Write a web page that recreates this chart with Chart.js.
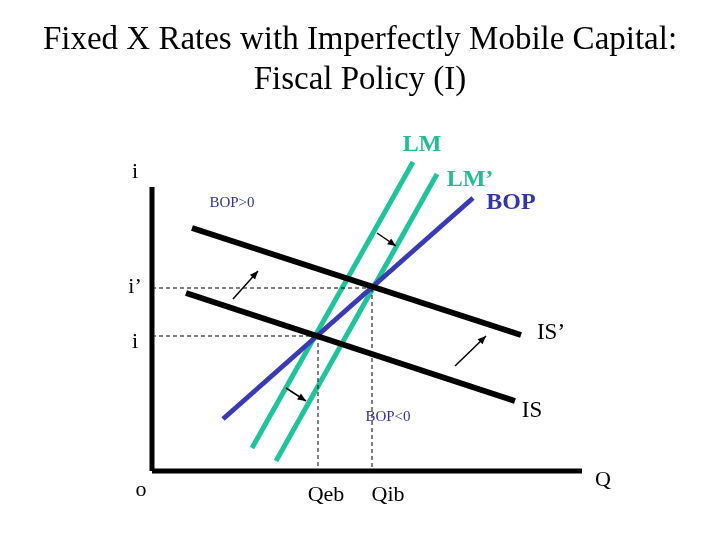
<!DOCTYPE html>
<html><head><meta charset="utf-8">
<script src="https://cdn.jsdelivr.net/npm/chart.js@4"></script>
<style>html,body{margin:0;padding:0;background:#fff}#w{width:720px;height:540px}</style>
</head><body><div id="w"><canvas id="c"></canvas></div>
<script>
const lmLine=[{x:252,y:448},{x:413,y:162}];
const lmPrimeLine=[{x:276,y:461},{x:437,y:174}];
const bopLine=[{x:223,y:419},{x:473,y:198}];
const isPrimeLine=[{x:192,y:228},{x:521,y:335}];
const isLine=[{x:186,y:293},{x:515,y:401}];
const yAxisLine=[{x:152,y:187},{x:152,y:471}];
const xAxisLine=[{x:152,y:471},{x:582,y:471}];
const dashLines=[
 [{x:152,y:288},{x:372,y:288}],[{x:372,y:288},{x:372,y:471}],
 [{x:152,y:336},{x:316,y:336}],[{x:318,y:336},{x:318,y:471}]];
const arrows=[
 [{x:233,y:299},{x:258,y:271}],[{x:455,y:366},{x:486,y:336}],
 [{x:377,y:233},{x:396,y:246}],[{x:286,y:388},{x:306,y:401}]];
const labels=[
 {t:'i',x:135,y:172,s:22,c:'#000',b:false},
 {t:'i’',x:135,y:287,s:22,c:'#000',b:false},
 {t:'i',x:135,y:342,s:22,c:'#000',b:false},
 {t:'o',x:141,y:490,s:22,c:'#000',b:false},
 {t:'Qeb',x:326,y:495,s:22,c:'#000',b:false},
 {t:'Qib',x:388,y:495,s:22,c:'#000',b:false},
 {t:'Q',x:603,y:480,s:22,c:'#000',b:false},
 {t:'LM',x:422,y:145,s:24,c:'#1fbf95',b:true},
 {t:'LM’',x:470,y:180,s:24,c:'#1fbf95',b:true},
 {t:'BOP',x:511,y:203,s:24,c:'#3535a8',b:true},
 {t:'BOP>0',x:232,y:203,s:15,c:'#333399',b:false},
 {t:'BOP<0',x:388,y:417,s:15,c:'#333399',b:false},
 {t:'IS’',x:551,y:333,s:23,c:'#000',b:false},
 {t:'IS',x:532,y:411,s:23,c:'#000',b:false},
 {t:'Fixed X Rates with Imperfectly Mobile Capital:',x:360,y:40,s:33,c:'#000',b:false},
 {t:'Fiscal Policy (I)',x:360,y:80,s:33,c:'#000',b:false}];
const mk=(d,c,w,dash)=>({data:d,showLine:true,borderColor:c,borderWidth:w,pointRadius:0,borderDash:dash||[],borderCapStyle:'butt'});
const ds=[];
dashLines.forEach(d=>ds.push(mk(d,'#000',1,[4,3])));
arrows.forEach(d=>ds.push(mk(d,'#000',1.5)));
ds.push(mk(yAxisLine,'#000',5),mk(xAxisLine,'#000',5));
ds.push(mk(isLine,'#000',6),mk(isPrimeLine,'#000',6));
ds.push(mk(bopLine,'#3a3ab5',5));
ds.push(mk(lmLine,'#1fc49a',5),mk(lmPrimeLine,'#1fc49a',5));
const deco={id:'deco',afterDatasetsDraw(ch){
 const c=ch.ctx,xs=ch.scales.x,ys=ch.scales.y;
 c.save();c.fillStyle='#000';
 arrows.forEach(a=>{const x0=xs.getPixelForValue(a[0].x),y0=ys.getPixelForValue(a[0].y),x1=xs.getPixelForValue(a[1].x),y1=ys.getPixelForValue(a[1].y);
  const an=Math.atan2(y1-y0,x1-x0);c.beginPath();c.moveTo(x1,y1);
  c.lineTo(x1-9*Math.cos(an-0.4),y1-9*Math.sin(an-0.4));c.lineTo(x1-9*Math.cos(an+0.4),y1-9*Math.sin(an+0.4));c.closePath();c.fill();});
 c.textAlign='center';c.textBaseline='middle';
 labels.forEach(l=>{c.fillStyle=l.c;c.font=(l.b?'bold ':'')+l.s+'px "Liberation Serif"';c.fillText(l.t,xs.getPixelForValue(l.x),ys.getPixelForValue(l.y));});
 c.restore();}};
new Chart(document.getElementById('c'),{type:'scatter',data:{datasets:ds},
 options:{responsive:true,maintainAspectRatio:false,animation:false,layout:{padding:0},
  plugins:{legend:{display:false},tooltip:{enabled:false}},
  scales:{x:{type:'linear',min:0,max:720,display:false},y:{type:'linear',min:0,max:540,reverse:true,display:false}}},
 plugins:[deco]});
</script></body></html>
